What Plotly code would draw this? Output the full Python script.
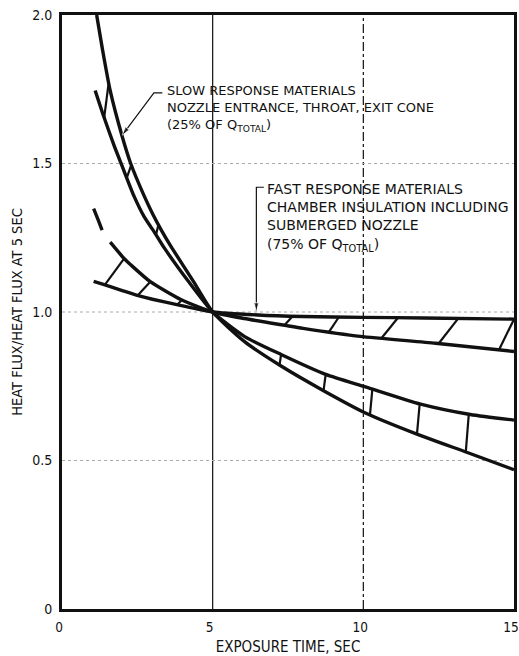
import numpy as np
import plotly.graph_objects as go

# Heat flux normalised to its value at 5 s, versus exposure time (s)

# Slow response materials: steep bound (ends lowest at 15 s)
slow_steep_t = [1.15, 1.35, 1.6, 2.0, 2.28, 2.73, 3.01, 3.3, 3.62, 4.35, 5.0,
                6.06, 7.27, 8.68, 10.07, 11.8, 13.45, 15.0]
slow_steep_q = [2.0, 1.88, 1.745, 1.59, 1.5, 1.39, 1.33, 1.275, 1.22, 1.105, 1.0,
                0.9, 0.818, 0.735, 0.66, 0.588, 0.527, 0.469]

# Slow response materials: milder bound
slow_mild_t = [1.1, 1.38, 1.73, 2.0, 2.39, 2.73, 3.09, 3.4, 4.18, 5.0,
               6.05, 7.27, 8.75, 10.07, 11.9, 13.55, 15.0]
slow_mild_q = [1.746, 1.66, 1.56, 1.49, 1.39, 1.32, 1.265, 1.215, 1.105, 1.0,
               0.918, 0.857, 0.79, 0.748, 0.69, 0.655, 0.636]

# Fast response materials: flat bound
fast_flat_t = [1.05, 1.4, 2.0, 2.5, 3.0, 3.85, 5.0, 6.5, 8.0, 10.0, 12.0, 15.0]
fast_flat_q = [1.103, 1.092, 1.072, 1.056, 1.043, 1.024, 1.0, 0.99, 0.985,
               0.982, 0.98, 0.976]

# Fast response materials: steeper bound (broken start near t = 1 s)
fast_steep_head_t = [1.05, 1.2, 1.33]
fast_steep_head_q = [1.348, 1.31, 1.276]
fast_steep_t = [1.6, 2.06, 2.28, 2.93, 3.96, 5.0, 6.05, 7.4, 8.0, 9.9, 12.4, 15.0]
fast_steep_q = [1.235, 1.18, 1.159, 1.102, 1.041, 1.0, 0.978, 0.955, 0.945,
                0.918, 0.895, 0.867]

# Band hatching: (time on first bound, time on second bound)
slow_hatch = [(1.55, 1.40), (2.30, 2.15), (3.20, 3.12), (7.22, 7.27),
              (8.68, 8.75), (10.22, 10.30), (11.78, 11.87), (13.40, 13.50)]
fast_hatch = [(1.42, 2.06), (2.51, 2.93), (3.82, 3.98), (7.66, 7.38),
              (9.19, 8.86), (11.15, 10.6), (13.15, 12.5), (15.0, 14.5)]

x_ticks = [0, 5, 10, 15]
x_tick_text = ["0", "5", "10", "15"]
y_ticks = [0, 0.5, 1.0, 1.5, 2.0]
y_tick_text = ["0", "0.5", "1.0", "1.5", "2.0"]

slow_label = ("SLOW RESPONSE MATERIALS<br>NOZZLE ENTRANCE, THROAT, EXIT CONE"
              "<br>(25% OF Q<sub>TOTAL</sub>)")
fast_label = ("FAST RESPONSE MATERIALS<br>CHAMBER INSULATION INCLUDING"
              "<br>SUBMERGED NOZZLE<br>(75% OF Q<sub>TOTAL</sub>)")

FONT = "DejaVu Sans Condensed, Liberation Sans Narrow, Arial Narrow, sans-serif"
NOTE_FONT = "DejaVu Sans, Liberation Sans, sans-serif"
INK = "#111111"


def hatch_xy(pairs, t1, q1, t2, q2):
    xs, ys = [], []
    for a, b in pairs:
        xs += [a, b, None]
        ys += [float(np.interp(a, t1, q1)), float(np.interp(b, t2, q2)), None]
    return xs, ys


def leader(fig, xs, ys):
    """Callout leader line ending in a filled arrowhead."""
    fig.add_trace(go.Scatter(
        x=xs, y=ys, mode="lines+markers", showlegend=False, hoverinfo="skip",
        line=dict(color=INK, width=1.2),
        marker=dict(symbol="arrow", angleref="previous", color=INK,
                    size=[0] * (len(xs) - 1) + [9])))


fig = go.Figure()

curve = dict(mode="lines", line=dict(color=INK, width=3.4, shape="spline", smoothing=0.6),
             showlegend=False, hoverinfo="skip")
for t, q in [(slow_steep_t, slow_steep_q), (slow_mild_t, slow_mild_q),
             (fast_flat_t, fast_flat_q), (fast_steep_head_t, fast_steep_head_q),
             (fast_steep_t, fast_steep_q)]:
    fig.add_trace(go.Scatter(x=t, y=q, **curve))

hx, hy = hatch_xy(slow_hatch, slow_steep_t, slow_steep_q, slow_mild_t, slow_mild_q)
fig.add_trace(go.Scatter(x=hx, y=hy, mode="lines", line=dict(color=INK, width=2.2),
                         showlegend=False, hoverinfo="skip"))
hx, hy = hatch_xy(fast_hatch, fast_flat_t, fast_flat_q, fast_steep_t, fast_steep_q)
fig.add_trace(go.Scatter(x=hx, y=hy, mode="lines", line=dict(color=INK, width=2.2),
                         showlegend=False, hoverinfo="skip"))

# Reference lines
fig.add_shape(type="line", x0=5, x1=5, y0=0, y1=2, line=dict(color=INK, width=1.2), layer="below")
fig.add_shape(type="line", x0=10, x1=10, y0=0, y1=2, line=dict(color=INK, width=1.2, dash="dashdot"), layer="below")
for yv in [0.5, 1.0, 1.5]:
    fig.add_shape(type="line", x0=0, x1=15, y0=yv, y1=yv,
                  line=dict(color="#aaaaaa", width=1, dash="dot"), layer="below")

# Callout: slow response band
slow_tip = float(np.interp(2.02, slow_steep_t, slow_steep_q))
leader(fig, [3.33, 3.05, 2.0], [1.738, 1.738, slow_tip + 0.012])
fig.add_annotation(x=3.43, y=1.685, xref="x", yref="y", xanchor="left", yanchor="middle",
                   align="left", showarrow=False, text=slow_label,
                   font=dict(family=NOTE_FONT, size=13, color=INK))

# Callout: fast response band
fast_tip = float(np.interp(6.45, fast_flat_t, fast_flat_q))
leader(fig, [6.7, 6.45, 6.45], [1.42, 1.42, fast_tip + 0.012])
fig.add_annotation(x=6.75, y=1.318, xref="x", yref="y", xanchor="left", yanchor="middle",
                   align="left", showarrow=False, text=fast_label,
                   font=dict(family=NOTE_FONT, size=14, color=INK))

axis_common = dict(showgrid=False, zeroline=False, showline=True, linecolor=INK,
                   linewidth=3, mirror=True, ticks="", ticklabelstandoff=4,
                   ticklabeloverflow="allow", automargin=False)
fig.update_xaxes(range=[0, 15], tickvals=x_ticks, ticktext=x_tick_text,
                 ticklabelshift=-3, tickfont=dict(family=FONT, size=13.5, color=INK),
                 title=dict(text="EXPOSURE TIME, SEC", standoff=12,
                            font=dict(family=FONT, size=15, color=INK)),
                 **axis_common)
fig.update_yaxes(range=[0, 2], tickvals=y_ticks, ticktext=y_tick_text,
                 tickfont=dict(family=FONT, size=14, color=INK),
                 title=dict(text="HEAT FLUX/HEAT FLUX AT 5 SEC", standoff=7,
                            font=dict(family=FONT, size=14.5, color=INK)),
                 **axis_common)

fig.update_layout(width=519, height=656, margin=dict(l=62, r=5, t=15, b=47),
                  paper_bgcolor="white", plot_bgcolor="white")

fig.write_html("out.html")
